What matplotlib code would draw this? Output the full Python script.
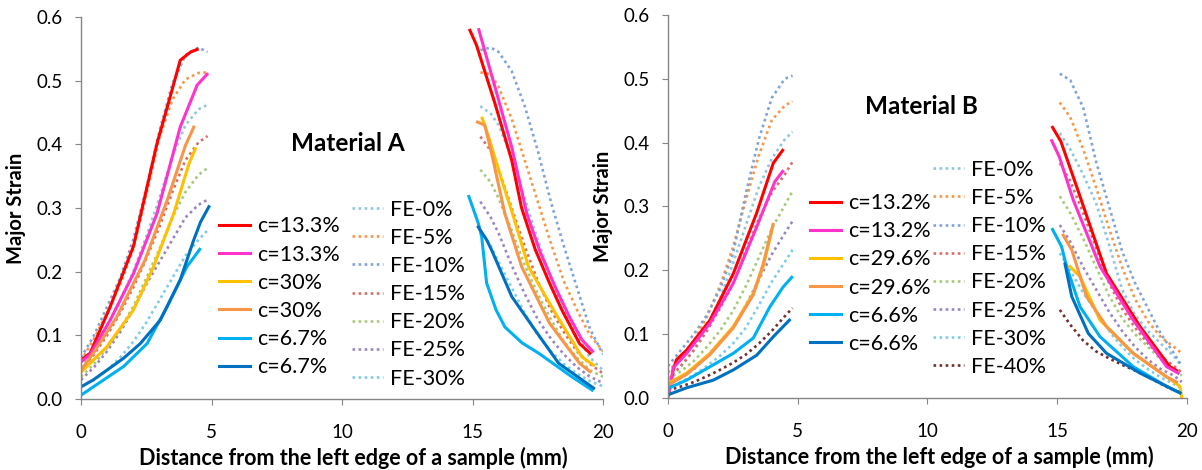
import numpy as np
import matplotlib
matplotlib.use('Agg')
import matplotlib.pyplot as plt

plt.rcParams['font.family'] = ['Lato', 'DejaVu Sans']

GAP = np.nan

# =============================================================================
# Material A - measured curves (left part, NaN, right part)
# =============================================================================
a_red_x = [0, 0.35, 1.12, 2.01, 2.53, 2.91, 3.5, 3.8, 4.2, 4.45, GAP,
           14.9, 15.15, 15.86, 16.5, 16.88, 17.4, 17.95, 18.42, 19.1, 19.5]
a_red_y = [0.061, 0.072, 0.145, 0.24, 0.333, 0.401, 0.487, 0.532, 0.545, 0.549, GAP,
           0.579, 0.556, 0.464, 0.375, 0.3, 0.235, 0.182, 0.14, 0.087, 0.072]
a_mag_x = [0, 0.35, 1.12, 2.01, 2.91, 3.8, 4.45, 4.83, GAP,
           15.24, 15.86, 16.5, 17.08, 17.6, 18.17, 18.7, 19.19, 19.6]
a_mag_y = [0.058, 0.07, 0.124, 0.197, 0.291, 0.427, 0.493, 0.51, GAP,
           0.58, 0.49, 0.396, 0.291, 0.23, 0.176, 0.13, 0.093, 0.075]
a_yel_x = [0, 0.99, 2.01, 2.78, 3.55, 4.14, 4.38, GAP,
           15.37, 15.6, 16.12, 16.57, 17.14, 18.17, 19.19, 19.64]
a_yel_y = [0.042, 0.082, 0.14, 0.208, 0.291, 0.37, 0.393, GAP,
           0.441, 0.414, 0.344, 0.286, 0.208, 0.135, 0.066, 0.053]
a_ora_x = [0, 0.47, 1.37, 2.45, 3.3, 4.0, 4.32, GAP,
           15.19, 15.47, 15.73, 16.24, 16.88, 17.95, 19.1, 19.5]
a_ora_y = [0.045, 0.072, 0.129, 0.218, 0.312, 0.398, 0.427, GAP,
           0.435, 0.43, 0.386, 0.291, 0.208, 0.119, 0.056, 0.043]
a_lbl_x = [0, 0.47, 1.63, 2.53, 3.3, 4.06, 4.55, GAP,
           14.86, 15.22, 15.35, 15.54, 15.9, 16.24, 16.9, 17.53, 18.8, 19.58]
a_lbl_y = [0.006, 0.019, 0.051, 0.087, 0.145, 0.208, 0.235, GAP,
           0.318, 0.276, 0.255, 0.182, 0.14, 0.113, 0.088, 0.072, 0.035, 0.014]
a_dbl_x = [0, 0.47, 1.63, 2.27, 3.04, 3.8, 4.32, 4.58, 4.9, GAP,
           15.22, 15.54, 15.73, 16.5, 17.4, 18.3, 19.64]
a_dbl_y = [0.019, 0.03, 0.064, 0.087, 0.124, 0.187, 0.25, 0.278, 0.302, GAP,
           0.27, 0.25, 0.234, 0.161, 0.108, 0.056, 0.017]

# Material A - FE predictions, shared x grid
a_fe_x = [0, 0.5, 1, 1.5, 2, 2.5, 3, 3.5, 4, 4.5, 4.85, GAP,
          15.3, 15.7, 16, 16.5, 17, 17.5, 18, 18.5, 19, 19.5, 20]
a_fe0 = [0.05, 0.08, 0.115, 0.155, 0.2, 0.255, 0.315, 0.38, 0.43, 0.455, 0.462, GAP,
         0.46, 0.448, 0.43, 0.38, 0.315, 0.25, 0.19, 0.14, 0.1, 0.065, 0.045]
a_fe5 = [0.06, 0.095, 0.135, 0.18, 0.235, 0.32, 0.41, 0.47, 0.502, 0.512, 0.513, GAP,
         0.513, 0.51, 0.49, 0.44, 0.375, 0.31, 0.245, 0.185, 0.14, 0.1, 0.075]
a_fe10 = [0.065, 0.1, 0.145, 0.19, 0.25, 0.33, 0.42, 0.495, 0.54, 0.552, 0.545, GAP,
          0.548, 0.552, 0.545, 0.515, 0.46, 0.39, 0.31, 0.24, 0.175, 0.11, 0.07]
a_fe15 = [0.045, 0.07, 0.1, 0.135, 0.175, 0.22, 0.27, 0.325, 0.375, 0.403, 0.413, GAP,
          0.412, 0.39, 0.36, 0.3, 0.24, 0.185, 0.14, 0.105, 0.075, 0.055, 0.04]
a_fe20 = [0.035, 0.055, 0.08, 0.11, 0.145, 0.19, 0.235, 0.285, 0.325, 0.352, 0.363, GAP,
          0.36, 0.34, 0.315, 0.265, 0.21, 0.165, 0.125, 0.09, 0.065, 0.045, 0.035]
a_fe25 = [0.03, 0.05, 0.075, 0.105, 0.14, 0.18, 0.215, 0.25, 0.285, 0.305, 0.313, GAP,
          0.31, 0.285, 0.26, 0.21, 0.165, 0.125, 0.095, 0.07, 0.05, 0.035, 0.025]
a_fe30 = [0.02, 0.03, 0.045, 0.065, 0.09, 0.12, 0.155, 0.19, 0.225, 0.25, 0.265, GAP,
          0.265, 0.24, 0.215, 0.175, 0.135, 0.1, 0.075, 0.055, 0.04, 0.028, 0.02]

# =============================================================================
# Material B - measured curves
# =============================================================================
b_red_x = [0, 0.1, 0.2, 0.33, 0.72, 1.62, 2.52, 3.42, 4.06, 4.42, GAP,
           14.82, 15.14, 15.75, 16.9, 18.19, 19.34, 19.6]
b_red_y = [0.005, 0.02, 0.044, 0.06, 0.075, 0.122, 0.195, 0.29, 0.368, 0.388, GAP,
           0.424, 0.402, 0.331, 0.195, 0.112, 0.049, 0.043]
b_mag_x = [0, 0.1, 0.2, 0.72, 1.62, 2.52, 3.42, 4.12, 4.42, GAP,
           14.79, 15.08, 15.62, 16.65, 17.93, 19.22, 19.66]
b_mag_y = [0.0, 0.02, 0.047, 0.07, 0.117, 0.18, 0.268, 0.339, 0.355, GAP,
           0.403, 0.378, 0.31, 0.206, 0.122, 0.049, 0.039]
b_yel_x = [0, 0.72, 1.62, 2.52, 3.29, 3.67, 4.0, GAP,
           15.49, 15.88, 16.65, 17.93, 19.22, 19.5, 19.73, 19.8]
b_yel_y = [0.023, 0.039, 0.07, 0.112, 0.164, 0.206, 0.262, GAP,
           0.206, 0.19, 0.122, 0.07, 0.033, 0.025, 0.018, 0.0]
b_ora_x = [0, 0.72, 1.62, 2.52, 3.29, 3.67, 4.05, GAP,
           15.23, 15.56, 16.13, 16.9, 17.93, 19.22, 19.6]
b_ora_y = [0.02, 0.037, 0.068, 0.11, 0.162, 0.21, 0.272, GAP,
           0.255, 0.232, 0.159, 0.112, 0.07, 0.033, 0.025]
b_lbl_x = [0, 0.72, 1.62, 2.52, 3.29, 3.93, 4.44, 4.77, GAP,
           14.82, 15.17, 15.36, 15.88, 16.65, 17.93, 19.22, 19.73]
b_lbl_y = [0.015, 0.028, 0.049, 0.07, 0.094, 0.143, 0.174, 0.189, GAP,
           0.264, 0.237, 0.206, 0.143, 0.096, 0.049, 0.018, 0.008]
b_dbl_x = [0, 0.72, 1.75, 2.52, 3.42, 4.06, 4.68, GAP,
           15.3, 15.56, 16.2, 16.9, 18.19, 19.73]
b_dbl_y = [0.005, 0.016, 0.028, 0.044, 0.067, 0.096, 0.122, GAP,
           0.21, 0.159, 0.101, 0.07, 0.039, 0.008]

# Material B - FE predictions, shared x grid
b_fe_x = [0, 0.5, 1, 1.5, 2, 2.5, 3, 3.5, 4, 4.5, 4.8, GAP,
          15.1, 15.5, 16, 16.5, 17, 17.5, 18, 18.5, 19, 19.5, 19.8]
b_fe0 = [0.03, 0.05, 0.075, 0.112, 0.155, 0.21, 0.27, 0.33, 0.375, 0.405, 0.417, GAP,
         0.415, 0.39, 0.35, 0.305, 0.24, 0.17, 0.13, 0.105, 0.085, 0.065, 0.05]
b_fe5 = [0.04, 0.065, 0.09, 0.127, 0.175, 0.235, 0.31, 0.38, 0.435, 0.458, 0.465, GAP,
         0.463, 0.44, 0.39, 0.33, 0.265, 0.205, 0.155, 0.12, 0.095, 0.08, 0.07]
b_fe10 = [0.05, 0.075, 0.1, 0.13, 0.17, 0.225, 0.32, 0.405, 0.47, 0.5, 0.505, GAP,
          0.508, 0.498, 0.455, 0.37, 0.3, 0.23, 0.18, 0.14, 0.1, 0.07, 0.05]
b_fe15 = [0.03, 0.05, 0.075, 0.105, 0.14, 0.178, 0.23, 0.28, 0.322, 0.35, 0.37, GAP,
          0.368, 0.34, 0.29, 0.235, 0.18, 0.14, 0.11, 0.085, 0.065, 0.05, 0.04]
b_fe20 = [0.03, 0.042, 0.058, 0.08, 0.105, 0.136, 0.175, 0.22, 0.265, 0.302, 0.324, GAP,
          0.316, 0.29, 0.25, 0.205, 0.16, 0.125, 0.1, 0.08, 0.06, 0.045, 0.035]
b_fe25 = [0.02, 0.032, 0.045, 0.065, 0.088, 0.11, 0.145, 0.185, 0.225, 0.258, 0.277, GAP,
          0.271, 0.245, 0.205, 0.17, 0.135, 0.105, 0.08, 0.06, 0.045, 0.035, 0.025]
b_fe30 = [0.015, 0.025, 0.036, 0.05, 0.066, 0.085, 0.11, 0.145, 0.182, 0.213, 0.232, GAP,
          0.227, 0.2, 0.165, 0.135, 0.105, 0.08, 0.06, 0.045, 0.032, 0.022, 0.015]
b_fe40 = [0.012, 0.018, 0.025, 0.034, 0.044, 0.055, 0.068, 0.085, 0.105, 0.128, 0.141, GAP,
          0.138, 0.115, 0.09, 0.073, 0.062, 0.052, 0.043, 0.033, 0.022, 0.012, 0.008]

A_SOLID_LABELS = ['c=13.3%', 'c=13.3%', 'c=30%', 'c=30%', 'c=6.7%', 'c=6.7%']
B_SOLID_LABELS = ['c=13.2%', 'c=13.2%', 'c=29.6%', 'c=29.6%', 'c=6.6%', 'c=6.6%']
FE_LABELS = ['FE-0%', 'FE-5%', 'FE-10%', 'FE-15%', 'FE-20%', 'FE-25%', 'FE-30%', 'FE-40%']

SOLID_COLORS = ['#FF0000', '#FF33CC', '#FFC000', '#F79646', '#00B0F0', '#0070C0']
FE_COLORS = ['#8FC6DB', '#F79646', '#7FA3D6', '#D46F6B', '#A8C97A', '#9A85BE',
             '#7FCCE4', '#6E302C']

AXIS_GRAY = '#868686'


# =============================================================================
# Drawing
# =============================================================================
def draw_panel(ax, solids, solid_labels, fe_x, fes, title, title_xy,
               leg1_anchor, leg2_anchor):
    fe_handles = []
    for y, lab, col in zip(fes, FE_LABELS, FE_COLORS):
        ln, = ax.plot(fe_x, y, color=col, lw=1.9, ls=(0, (1, 1.3)),
                      dash_capstyle='butt', label=lab)
        fe_handles.append(ln)
    solid_handles = []
    for (x, y), lab, col in zip(solids, solid_labels, SOLID_COLORS):
        ln, = ax.plot(x, y, color=col, lw=2.2, label=lab)
        solid_handles.append(ln)

    ax.set_xlim(0, 20)
    ax.set_ylim(0, 0.6)
    ax.set_xticks([0, 5, 10, 15, 20])
    ax.set_yticks(np.arange(0, 0.61, 0.1))
    ax.set_yticklabels(['%.1f' % v for v in np.arange(0, 0.61, 0.1)])
    for s in ['top', 'right']:
        ax.spines[s].set_visible(False)
    for s in ['left', 'bottom']:
        ax.spines[s].set_color(AXIS_GRAY)
        ax.spines[s].set_linewidth(1.0)
    ax.tick_params(axis='y', direction='out', length=4.5, color=AXIS_GRAY,
                   labelsize=13.5, pad=8.5)
    ax.tick_params(axis='x', direction='out', length=4, color=AXIS_GRAY,
                   labelsize=13.5, pad=14)
    ax.set_xlabel('Distance from the left edge of a sample (mm)',
                  fontsize=15.5, fontweight='bold', labelpad=4)
    ax.xaxis.label.set_x(0.522)
    ax.set_ylabel('Major Strain', fontsize=14.5, fontweight='bold', labelpad=8)

    ax.text(title_xy[0], title_xy[1], title, fontsize=17.5, fontweight='bold',
            ha='center', va='center')

    leg_kw = dict(frameon=False, fontsize=15.5, handlelength=1.45,
                  handletextpad=0.32, labelspacing=0.38, borderpad=0,
                  borderaxespad=0, loc='upper left')
    leg1 = ax.legend(handles=solid_handles, bbox_to_anchor=leg1_anchor, **leg_kw)
    ax.add_artist(leg1)
    ax.legend(handles=fe_handles, bbox_to_anchor=leg2_anchor, **leg_kw)


fig = plt.figure(figsize=(12.02, 4.70), dpi=100)
ax_a = fig.add_axes([0.0674, 0.1511, 0.4343, 0.8128])
ax_b = fig.add_axes([0.5557, 0.1532, 0.4318, 0.8149])

draw_panel(ax_a,
           [(a_red_x, a_red_y), (a_mag_x, a_mag_y), (a_yel_x, a_yel_y),
            (a_ora_x, a_ora_y), (a_lbl_x, a_lbl_y), (a_dbl_x, a_dbl_y)],
           A_SOLID_LABELS, a_fe_x,
           [a_fe0, a_fe5, a_fe10, a_fe15, a_fe20, a_fe25, a_fe30],
           'Material A', (10.23, 0.402),
           (0.264, 0.478), (0.519, 0.522))

draw_panel(ax_b,
           [(b_red_x, b_red_y), (b_mag_x, b_mag_y), (b_yel_x, b_yel_y),
            (b_ora_x, b_ora_y), (b_lbl_x, b_lbl_y), (b_dbl_x, b_dbl_y)],
           B_SOLID_LABELS, b_fe_x,
           [b_fe0, b_fe5, b_fe10, b_fe15, b_fe20, b_fe25, b_fe30, b_fe40],
           'Material B', (9.75, 0.456),
           (0.274, 0.535), (0.511, 0.622))

fig.savefig('out.png', dpi=100)
